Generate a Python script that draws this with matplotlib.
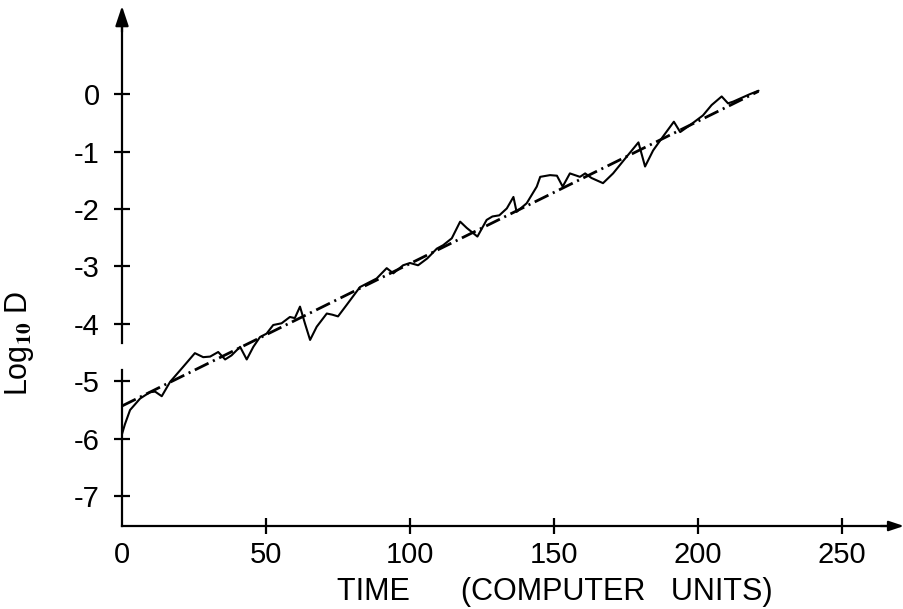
import matplotlib
matplotlib.use('Agg')
import matplotlib.pyplot as plt

# ---- data ----
time = [0, 1, 2.8, 6.3, 9.7, 11.5, 13.8, 16.7, 21.2, 25.3, 28.2, 30.6, 33.4, 35.8,
        38, 41, 43.3, 45.6, 47.9, 50.2, 52.5, 55.4, 58.3, 60, 61.8, 63.5, 65.3,
        67.6, 71.1, 73, 75, 78, 82.6, 88.4, 91.9, 94.2, 97.6, 100, 102.8, 106,
        109.3, 111.5, 114.5, 117.4, 119.7, 123.4, 126.6, 128.6, 131, 133.6, 135.9,
        137, 140.5, 144, 145.2, 148.6, 151, 153, 155.5, 159, 160.8, 163, 167,
        170.5, 175.2, 179.3, 181.6, 184.4, 187.8, 191.6, 193.8, 197.2, 201.7,
        204.7, 208.2, 210.4, 212.2, 218, 221]
log_d = [-5.92, -5.75, -5.50, -5.30, -5.19, -5.18, -5.26, -5.01, -4.75, -4.51, -4.58,
         -4.57, -4.49, -4.62, -4.55, -4.40, -4.62, -4.40, -4.23, -4.17, -4.02, -3.99,
         -3.88, -3.90, -3.70, -3.99, -4.28, -4.05, -3.82, -3.84, -3.87, -3.67, -3.36,
         -3.21, -3.03, -3.12, -2.98, -2.94, -2.98, -2.86, -2.69, -2.63, -2.51, -2.22,
         -2.33, -2.48, -2.19, -2.13, -2.11, -1.99, -1.79, -2.05, -1.90, -1.61, -1.44,
         -1.41, -1.42, -1.61, -1.38, -1.44, -1.38, -1.46, -1.55, -1.38, -1.09, -0.84,
         -1.26, -0.98, -0.74, -0.48, -0.66, -0.54, -0.37, -0.19, -0.04, -0.16, -0.13,
         0.00, 0.06]

fit_time = [0, 221]
fit_log_d = [-5.43, 0.05]

x_ticks = [0, 50, 100, 150, 200, 250]
x_tick_labels = ['0', '50', '100', '150', '200', '250']
y_ticks = [0, -1, -2, -3, -4, -5, -6, -7]
y_tick_labels = ['0', '-1', '-2', '-3', '-4', '-5', '-6', '-7']

x_label = 'TIME      (COMPUTER   UNITS)'
y_label = r'Log$_{\mathbf{10}}$ D'

# ---- style ----
plt.rcParams['font.family'] = ['Liberation Sans', 'DejaVu Sans']
plt.rcParams['axes.unicode_minus'] = False
plt.rcParams['mathtext.fontset'] = 'stix'
plt.rcParams['lines.scale_dashes'] = False

W, H = 904, 609
fig = plt.figure(figsize=(W / 100, H / 100), dpi=100)
ax = fig.add_axes([122 / W, (H - 526) / H, 782 / W, 520 / H])
XMAX = 271.5
YMIN, YMAX = -7.52, 1.535
ax.set_xlim(0, XMAX)
ax.set_ylim(YMIN, YMAX)

for s in ax.spines.values():
    s.set_visible(False)
ax.spines['bottom'].set_visible(True)
ax.spines['bottom'].set_linewidth(1.6)
ax.spines['bottom'].set_bounds(0, XMAX * 0.985)


def frac(v):
    return (v - YMIN) / (YMAX - YMIN)


# left axis line with a break between -4 and -5 as in the scan
ax.axvline(0, ymin=0, ymax=frac(-4.81), color='k', lw=1.6, clip_on=False)
ax.axvline(0, ymin=frac(-4.34), ymax=0.97, color='k', lw=1.6, clip_on=False)

# arrow heads
ax.annotate('', xy=(0, 1.0), xycoords='axes fraction', xytext=(0, 0.95),
            arrowprops=dict(arrowstyle='-|>,head_length=1.2,head_width=0.4',
                            color='k', lw=1.6, shrinkA=0, shrinkB=0))
ax.annotate('', xy=(1.0, 0), xycoords='axes fraction', xytext=(0.97, 0),
            arrowprops=dict(arrowstyle='-|>,head_length=0.9,head_width=0.3',
                            color='k', lw=1.6, shrinkA=0, shrinkB=0))

# data
ax.plot(time, log_d, color='k', lw=1.5, solid_joinstyle='round',
        solid_capstyle='round')
fit_line, = ax.plot(fit_time, fit_log_d, color='k', lw=2.0)
fit_line.set_dashes([11, 3.5, 1.5, 3.5])

# ticks
ax.set_xticks(x_ticks, x_tick_labels)
ax.set_yticks(y_ticks, y_tick_labels)
ax.tick_params(axis='both', direction='inout', length=12, width=1.6,
               labelsize=21, color='k')
ax.tick_params(axis='x', pad=4.5)
ax.tick_params(axis='y', pad=10)
ax.xaxis.get_major_ticks()[0].tick1line.set_visible(False)

# labels
ax.text((555 - 122) / 782, (526 - 600) / 520, x_label, transform=ax.transAxes,
        ha='center', va='baseline', fontsize=22)
fig.text(20 / W, 1 - 343 / H, y_label, rotation=90, ha='center', va='center',
         fontsize=22)

fig.savefig('out.png', dpi=100, facecolor='white')
